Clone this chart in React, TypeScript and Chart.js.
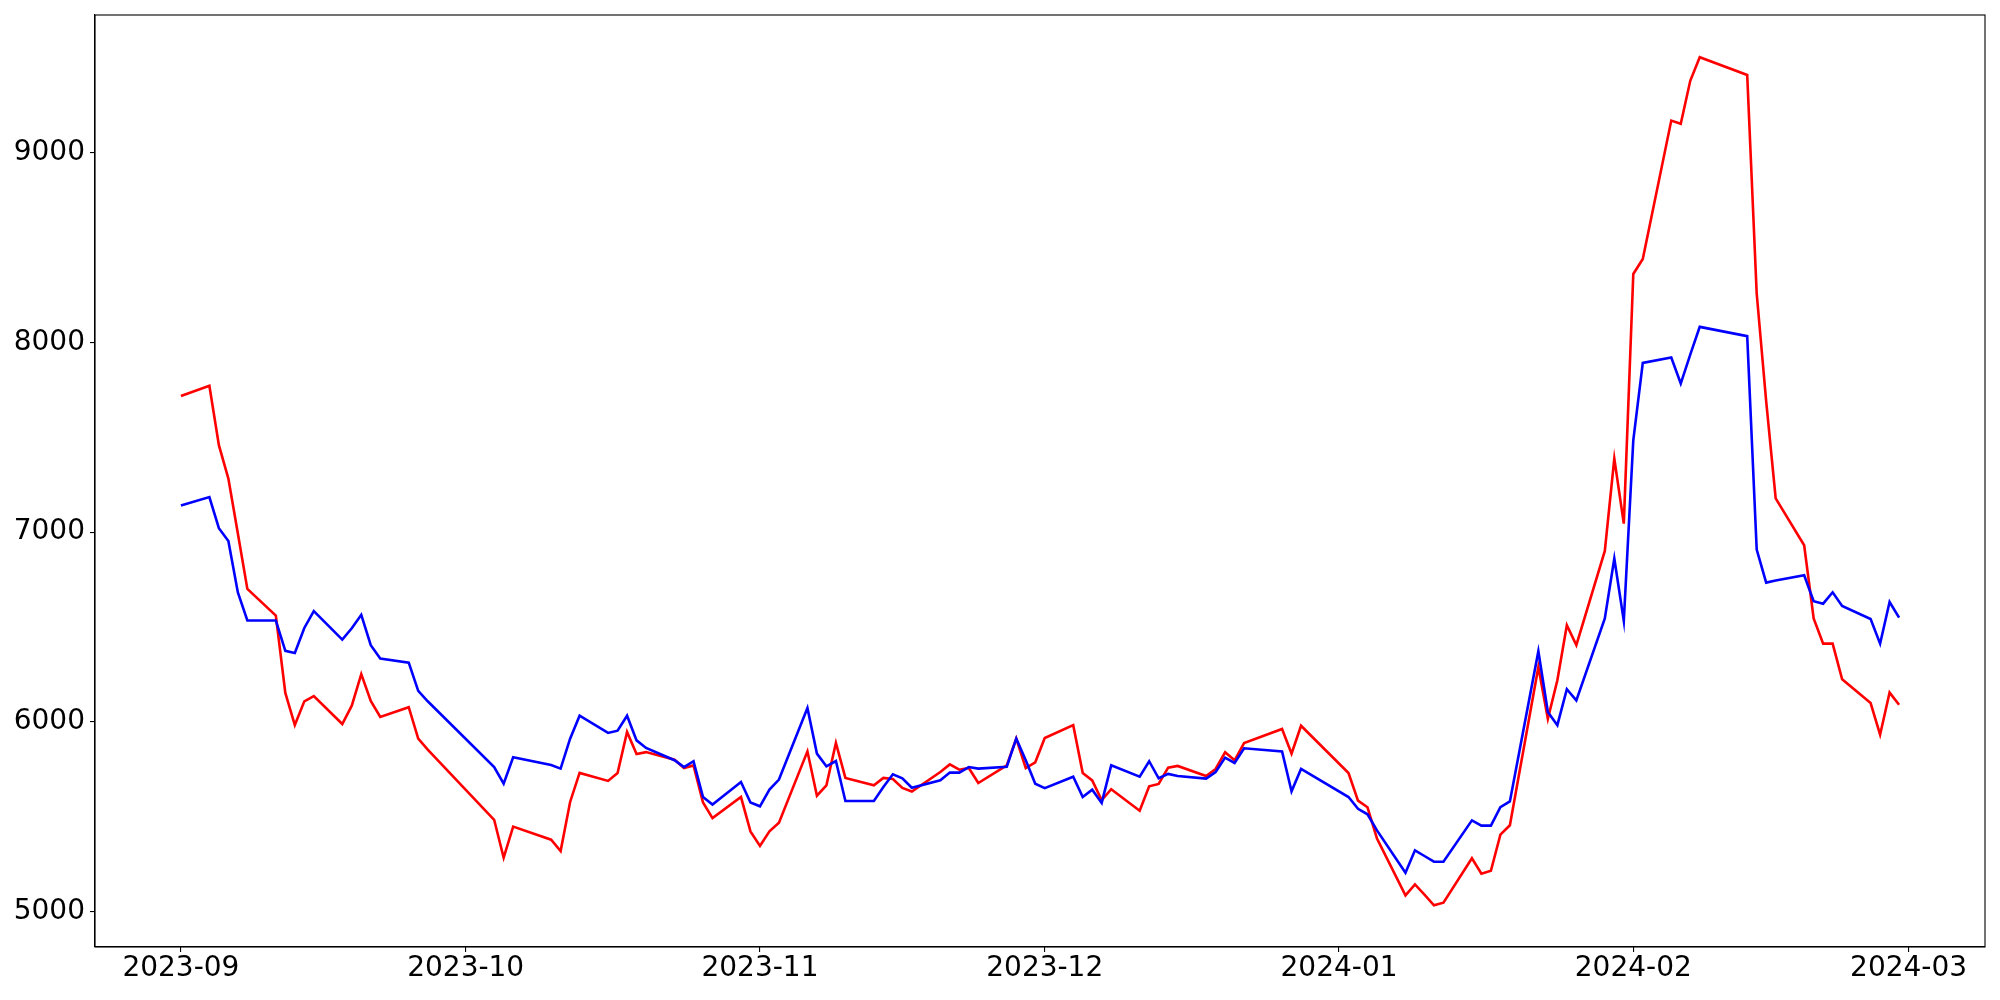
import React, { useEffect, useRef } from "react";
import { Chart, registerables } from "chart.js";

Chart.register(...registerables);

const dates = [
  "2023-09-01", "2023-09-04", "2023-09-05", "2023-09-06", "2023-09-07", "2023-09-08",
  "2023-09-11", "2023-09-12", "2023-09-13", "2023-09-14", "2023-09-15",
  "2023-09-18", "2023-09-19", "2023-09-20", "2023-09-21", "2023-09-22",
  "2023-09-25", "2023-09-26", "2023-09-27",
  "2023-10-04", "2023-10-05", "2023-10-06",
  "2023-10-10", "2023-10-11", "2023-10-12", "2023-10-13",
  "2023-10-16", "2023-10-17", "2023-10-18", "2023-10-19", "2023-10-20",
  "2023-10-23", "2023-10-24", "2023-10-25", "2023-10-26", "2023-10-27",
  "2023-10-30", "2023-10-31", "2023-11-01", "2023-11-02", "2023-11-03",
  "2023-11-06", "2023-11-07", "2023-11-08", "2023-11-09", "2023-11-10",
  "2023-11-13", "2023-11-14", "2023-11-15", "2023-11-16", "2023-11-17",
  "2023-11-20", "2023-11-21", "2023-11-22", "2023-11-23", "2023-11-24",
  "2023-11-27", "2023-11-28", "2023-11-29", "2023-11-30", "2023-12-01",
  "2023-12-04", "2023-12-05", "2023-12-06", "2023-12-07", "2023-12-08",
  "2023-12-11", "2023-12-12", "2023-12-13", "2023-12-14", "2023-12-15",
  "2023-12-18", "2023-12-19", "2023-12-20", "2023-12-21", "2023-12-22",
  "2023-12-26", "2023-12-27", "2023-12-28",
  "2024-01-02", "2024-01-03", "2024-01-04", "2024-01-05",
  "2024-01-08", "2024-01-09", "2024-01-10", "2024-01-11", "2024-01-12",
  "2024-01-15", "2024-01-16", "2024-01-17", "2024-01-18", "2024-01-19",
  "2024-01-22", "2024-01-23", "2024-01-24", "2024-01-25", "2024-01-26",
  "2024-01-29", "2024-01-30", "2024-01-31", "2024-02-01", "2024-02-02",
  "2024-02-05", "2024-02-06", "2024-02-07", "2024-02-08",
  "2024-02-13", "2024-02-14", "2024-02-15", "2024-02-16",
  "2024-02-19", "2024-02-20", "2024-02-21", "2024-02-22", "2024-02-23",
  "2024-02-26", "2024-02-27", "2024-02-28", "2024-02-29",
];

const redValues = [
  7718, 7772, 7459, 7283, 6993, 6701,
  6560, 6152, 5983, 6108, 6135,
  5988, 6085, 6251, 6110, 6025,
  6077, 5911, 5853,
  5483, 5283, 5447,
  5378, 5318, 5577, 5730,
  5688, 5730, 5946, 5830, 5840,
  5800, 5756, 5770, 5574, 5492,
  5603, 5422, 5345, 5422, 5468,
  5844, 5610, 5665, 5888, 5704,
  5665, 5704, 5698, 5651, 5632,
  5735, 5775, 5747, 5756, 5677,
  5770, 5911, 5756, 5786, 5914,
  5982, 5730, 5691, 5586, 5644,
  5531, 5660, 5672, 5758, 5767,
  5714, 5751, 5839, 5797, 5888,
  5962, 5832, 5979,
  5730, 5584, 5549, 5384,
  5084, 5142, 5088, 5032, 5046,
  5280, 5199, 5214, 5405, 5454,
  6289, 6016, 6219, 6509, 6404,
  6901, 7388, 7045, 8362, 8441,
  9171, 9154, 9381, 9505,
  9412, 8259, 7690, 7178,
  6931, 6545, 6412, 6412, 6224,
  6099, 5932, 6154, 6090,
];

const blueValues = [
  7141, 7185, 7021, 6953, 6682, 6534,
  6534, 6374, 6363, 6495, 6584,
  6433, 6493, 6564, 6404, 6334,
  6312, 6163, 6108,
  5761, 5673, 5813,
  5772, 5753, 5911, 6032,
  5941, 5953, 6032, 5902, 5862,
  5797, 5761, 5792, 5603, 5563,
  5682, 5574, 5554, 5642, 5695,
  6073, 5832, 5765, 5793, 5582,
  5582, 5656, 5723, 5702, 5652,
  5691, 5732, 5732, 5761, 5753,
  5763, 5911, 5797, 5673, 5650,
  5710, 5603, 5642, 5572, 5770,
  5710, 5792, 5702, 5725, 5714,
  5700, 5735, 5811, 5783, 5860,
  5843, 5633, 5751,
  5603, 5541, 5512, 5427,
  5204, 5322, 5292, 5262, 5262,
  5480, 5452, 5452, 5550, 5580,
  6372, 6052, 5982, 6172, 6113,
  6545, 6861, 6532, 7485, 7893,
  7921, 7784, 7937, 8083,
  8034, 6908, 6734, 6745,
  6773, 6636, 6623, 6683, 6611,
  6542, 6412, 6632, 6549,
];

const tickDates = ["2023-09-01", "2023-10-01", "2023-11-01", "2023-12-01", "2024-01-01", "2024-02-01", "2024-03-01"];
const tickLabels = ["2023-09", "2023-10", "2023-11", "2023-12", "2024-01", "2024-02", "2024-03"];
const yTickValues = [5000, 6000, 7000, 8000, 9000];

const ORIGIN = Date.UTC(2023, 8, 1);
const toDay = (s: string) => {
  const [y, m, d] = s.split("-").map(Number);
  return (Date.UTC(y, m - 1, d) - ORIGIN) / 86400000;
};

const FONT = { family: "DejaVu Sans", size: 28 };

const framePlugin = {
  id: "frame",
  afterDatasetsDraw(chart: any) {
    const { ctx, chartArea } = chart;
    ctx.save();
    ctx.strokeStyle = "#000";
    ctx.lineWidth = 1.1;
    ctx.strokeRect(chartArea.left, chartArea.top, chartArea.right - chartArea.left, chartArea.bottom - chartArea.top);
    ctx.restore();
  },
};

export default function App() {
  const ref = useRef<HTMLCanvasElement | null>(null);

  useEffect(() => {
    if (!ref.current) return;
    const firstDay = toDay(dates[0]);
    const lastDay = toDay(dates[dates.length - 1]);
    const span = lastDay - firstDay;
    const chart = new Chart(ref.current, {
      type: "line",
      data: {
        datasets: [
          {
            label: "red",
            data: dates.map((d, i) => ({ x: toDay(d), y: redValues[i] })),
            borderColor: "#ff0000",
            backgroundColor: "#ff0000",
            borderWidth: 2.6,
            pointRadius: 0,
            tension: 0,
            order: 1,
          },
          {
            label: "blue",
            data: dates.map((d, i) => ({ x: toDay(d), y: blueValues[i] })),
            borderColor: "#0000ff",
            backgroundColor: "#0000ff",
            borderWidth: 2.6,
            pointRadius: 0,
            tension: 0,
            order: 0,
          },
        ],
      },
      options: {
        responsive: false,
        animation: false,
        devicePixelRatio: 1,
        layout: { padding: { top: 15, right: 15, left: 0, bottom: 0 } },
        plugins: { legend: { display: false }, tooltip: { enabled: false }, title: { display: false } },
        scales: {
          x: {
            type: "linear",
            min: firstDay - span * 0.05,
            max: lastDay + span * 0.05,
            grid: { display: true, drawOnChartArea: false, drawTicks: true, tickLength: 5, color: "#000", lineWidth: 1.1 },
            border: { display: true, color: "#000", width: 1.1 },
            ticks: {
              font: FONT,
              color: "#000",
              padding: 0,
              maxRotation: 0,
              autoSkip: false,
              callback: (value: any) => {
                const i = tickDates.findIndex((d) => toDay(d) === value);
                return i >= 0 ? tickLabels[i] : "";
              },
            },
            afterBuildTicks: (scale: any) => {
              scale.ticks = tickDates.map((d) => ({ value: toDay(d) }));
            },
            afterFit: (scale: any) => {
              scale.height = 53;
              scale.paddingLeft = 0;
              scale.paddingRight = 0;
            },
          },
          y: {
            type: "linear",
            min: 4812,
            max: 9728,
            grid: { display: true, drawOnChartArea: false, drawTicks: true, tickLength: 5, color: "#000", lineWidth: 1.1 },
            border: { display: true, color: "#000", width: 1.1 },
            ticks: {
              font: FONT,
              color: "#000",
              padding: 5,
              callback: (value: any) => String(value),
            },
            afterBuildTicks: (scale: any) => {
              scale.ticks = yTickValues.map((v) => ({ value: v }));
            },
            afterFit: (scale: any) => {
              scale.width = 95;
              scale.paddingTop = 0;
              scale.paddingBottom = 0;
            },
          },
        },
      },
      plugins: [framePlugin],
    });
    return () => chart.destroy();
  }, []);

  return (
    <div style={{ position: "absolute", left: 0, top: 0, width: 2000, height: 1000, background: "#fff" }}>
      <canvas ref={ref} width={2000} height={1000} style={{ width: 2000, height: 1000, display: "block" }} />
    </div>
  );
}
